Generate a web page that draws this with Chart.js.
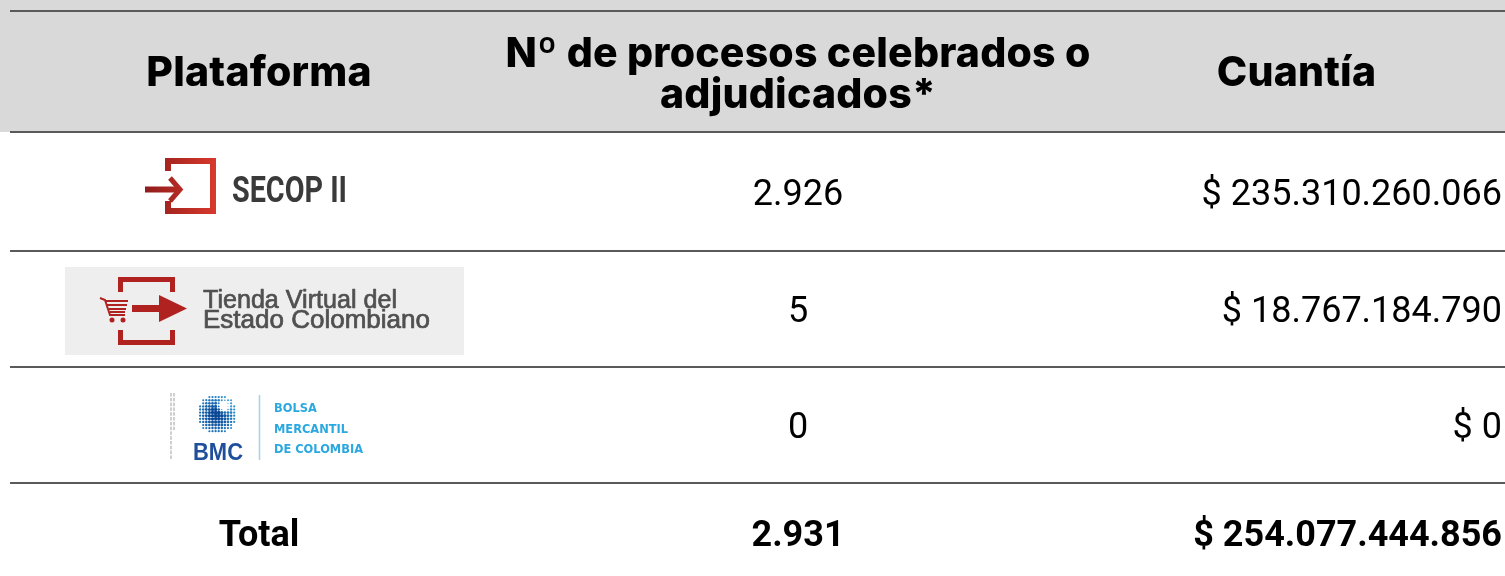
<!DOCTYPE html>
<html><head><meta charset="utf-8">
<script src="https://cdn.jsdelivr.net/npm/chart.js@4.4.1/dist/chart.umd.min.js"></script>
<style>html,body{margin:0;padding:0;background:#fff;overflow:hidden}#wrap{width:1505px;height:576px;position:relative}</style>
</head><body><div id="wrap"><canvas id="c"></canvas></div>
<script>
// ---- data ----
const headers = ['Plataforma', ['Nº de procesos celebrados o', 'adjudicados*'], 'Cuantía'];
const platforms = [['SECOP II'], ['Tienda Virtual del', 'Estado Colombiano'], ['BOLSA', 'MERCANTIL', 'DE COLOMBIA']];
const processCounts = [2926, 5, 0];
const amounts = [235310260066, 18767184790, 0];
const totalLabel = 'Total';
const totalCount = 2931;
const totalAmount = 254077444856;

// ---- layout (not data) ----
const colWidths = [498, 580, 417];
const rowHeights = [121, 119, 116, 116, 100];
const visibleHeight = 565;
const rightPad = 3;

const sum = a => a.reduce((s, v) => s + v, 0);
const colStart = i => sum(colWidths.slice(0, i));
const colCenter = i => colStart(i) + colWidths[i] / 2;
const colRight = i => colStart(i) + colWidths[i] - rightPad;
const rowCenter = i => sum(rowHeights.slice(0, i)) + rowHeights[i] / 2;
const fmt = n => String(n).replace(/\B(?=(\d{3})+(?!\d))/g, '.');
const money = n => '$ ' + fmt(n);

const bodyRows = platforms.length;
const datasets = [
  { label: 'header', data: headers.map((h, i) => ({ x: colCenter(i), y: rowCenter(0) })) },
  { label: 'platform', data: platforms.map((p, i) => ({ x: colCenter(0), y: rowCenter(i + 1) })).concat([{ x: colCenter(0), y: rowCenter(bodyRows + 1) }]) },
  { label: 'count', data: processCounts.map((v, i) => ({ x: colCenter(1), y: rowCenter(i + 1) })).concat([{ x: colCenter(1), y: rowCenter(bodyRows + 1) }]) },
  { label: 'amount', data: amounts.map((v, i) => ({ x: colRight(2), y: rowCenter(i + 1) })).concat([{ x: colRight(2), y: rowCenter(bodyRows + 1) }]) }
];
datasets.forEach(d => { d.pointRadius = 0; d.pointHoverRadius = 0; d.showLine = false; });

function fitText(ctx, text, x, y, width) {
  const w = ctx.measureText(text).width;
  ctx.save(); ctx.translate(x, y); ctx.scale(width / w, 1); ctx.fillText(text, 0, 0); ctx.restore();
}

function drawSecop(ctx, cx, cy, lines) {
  const g = ctx.createLinearGradient(cx - 116, 0, cx - 43, 0);
  g.addColorStop(0, '#8e1b1b'); g.addColorStop(1, '#d8392c');
  ctx.fillStyle = g;
  ctx.fillRect(cx - 49, cy - 33.5, 6, 56);
  ctx.fillRect(cx - 94, cy - 33.5, 51, 6);
  ctx.fillRect(cx - 94, cy - 33.5, 6, 13);
  ctx.fillRect(cx - 94, cy + 16.5, 51, 6);
  ctx.fillRect(cx - 94, cy + 9.5, 6, 13);
  ctx.strokeStyle = g; ctx.lineWidth = 6; ctx.lineCap = 'butt';
  ctx.beginPath(); ctx.moveTo(cx - 114, cy - 2); ctx.lineTo(cx - 81, cy - 2); ctx.stroke();
  ctx.lineWidth = 5; ctx.lineJoin = 'miter';
  ctx.beginPath(); ctx.moveTo(cx - 89, cy - 13.5); ctx.lineTo(cx - 79, cy - 2); ctx.lineTo(cx - 89, cy + 9.5); ctx.stroke();
  ctx.fillStyle = '#3a3a3a';
  ctx.font = 'bold 36px Roboto';
  ctx.textAlign = 'left';
  fitText(ctx, lines[0], cx - 27, cy + 10.5, 115);
}

function drawTienda(ctx, cx, cy, lines) {
  ctx.fillStyle = '#eeeeee';
  ctx.fillRect(cx - 194, cy - 42, 399, 88);
  ctx.fillStyle = '#b02220';
  ctx.fillRect(cx - 141, cy - 32, 57, 5);
  ctx.fillRect(cx - 141, cy - 32, 5, 15);
  ctx.fillRect(cx - 89, cy - 32, 5, 15);
  ctx.fillRect(cx - 141, cy + 31, 57, 5);
  ctx.fillRect(cx - 141, cy + 21, 5, 15);
  ctx.fillRect(cx - 89, cy + 21, 5, 15);
  ctx.fillRect(cx - 127, cy - 4, 30, 7);
  ctx.beginPath(); ctx.moveTo(cx - 100, cy - 14); ctx.lineTo(cx - 72, cy - 0.5); ctx.lineTo(cx - 100, cy + 13); ctx.closePath(); ctx.fill();
  // cart
  ctx.strokeStyle = '#b02220'; ctx.lineWidth = 2;
  ctx.beginPath(); ctx.moveTo(cx - 159, cy - 11); ctx.lineTo(cx - 154, cy - 9); ctx.lineTo(cx - 149, cy + 6); ctx.lineTo(cx - 134, cy + 6); ctx.stroke();
  const bl = [[-8, -153, -131], [-4, -152, -132], [0, -150, -133], [3, -149, -134]];
  bl.forEach(([dy, a, b]) => { ctx.beginPath(); ctx.moveTo(cx + a, cy + dy); ctx.lineTo(cx + b, cy + dy); ctx.stroke(); });
  ctx.beginPath(); ctx.arc(cx - 147, cy + 11, 2.5, 0, Math.PI * 2); ctx.fill();
  ctx.beginPath(); ctx.arc(cx - 136, cy + 11, 2.5, 0, Math.PI * 2); ctx.fill();
  ctx.fillStyle = '#505050';
  ctx.strokeStyle = '#505050'; ctx.lineWidth = 0.7; ctx.lineJoin = 'round';
  ctx.font = '25.5px "Liberation Sans", Arial';
  ctx.textAlign = 'left';
  const W = [194, 227];
  lines.forEach((ln, i) => {
    const w = ctx.measureText(ln).width;
    ctx.save(); ctx.translate(cx - 56, cy - 1 + i * 20); ctx.scale(W[i] / w, 1);
    ctx.fillText(ln, 0, 0); ctx.strokeText(ln, 0, 0); ctx.restore();
  });
}

function drawBmc(ctx, cx, cy, lines) {
  // tiny vertical caption strip
  ctx.fillStyle = '#cfcfcf';
  for (let i = 0; i < 14; i++) ctx.fillRect(cx - 89, cy - 32 + i * 4.8, 2, 3.5);
  for (let i = 0; i < 8; i++) ctx.fillRect(cx - 86, cy - 32 + i * 4.8, 2, 3.5);
  // dotted sphere
  const sx = cx - 42, sy = cy - 11, R = 20, step = 3.1;
  const light = [70, 185, 238], dark = [10, 72, 150];
  for (let gx = -R; gx <= R; gx += step) {
    for (let gy = -R; gy <= R; gy += step) {
      const d = Math.hypot(gx, gy);
      if (d > R) continue;
      const hd = Math.hypot(gx - 7, gy + 8);
      if (hd < 3.5) continue;
      const edge = d / R;
      let r = 2.0 * (1 - edge * 0.5) * Math.min(1, (hd - 2.5) / 5);
      if (r < 0.4) continue;
      let t = 0.45 + (1 - edge) * 0.75 + (gy - gx) / R * 0.12 - Math.max(0, 1 - hd / 10) * 0.5;
      t = Math.max(0, Math.min(1, t));
      const col = light.map((v, k) => Math.round(v + (dark[k] - v) * t));
      ctx.fillStyle = `rgb(${col.join(',')})`;
      ctx.beginPath(); ctx.arc(sx + gx, sy + gy, r, 0, Math.PI * 2); ctx.fill();
    }
  }
  ctx.fillStyle = '#1f4e9b';
  ctx.font = 'bold 23px "Liberation Sans", Arial';
  ctx.textAlign = 'left';
  fitText(ctx, 'BMC', cx - 66, cy + 35, 50);
  ctx.strokeStyle = '#9fd3f0'; ctx.lineWidth = 1.5;
  ctx.beginPath(); ctx.moveTo(cx + 0.5, cy - 30); ctx.lineTo(cx + 0.5, cy + 35); ctx.stroke();
  ctx.fillStyle = '#2aa8e0';
  ctx.font = 'bold 12px "DejaVu Sans"';
  const s = 89 / ctx.measureText(lines[2]).width;
  const bases = [-13, 8, 28];
  lines.forEach((ln, i) => {
    ctx.save(); ctx.translate(cx + 15, cy + bases[i]); ctx.scale(s, 1); ctx.fillText(ln, 0, 0); ctx.restore();
  });
}

const logoDrawers = [drawSecop, drawTienda, drawBmc];

const tablePlugin = {
  id: 'tablePlugin',
  beforeDatasetsDraw(chart) {
    const { ctx, scales: { x, y }, chartArea } = chart;
    ctx.save();
    ctx.fillStyle = '#d9d9d9';
    ctx.fillRect(0, 0, chart.width, y.getPixelForValue(rowHeights[0]));
    ctx.strokeStyle = '#5a5a5a'; ctx.lineWidth = 2;
    let acc = 0;
    for (let i = 0; i < rowHeights.length; i++) {
      const py = Math.round(y.getPixelForValue(acc));
      ctx.beginPath(); ctx.moveTo(chartArea.left, py); ctx.lineTo(chartArea.right, py); ctx.stroke();
      acc += rowHeights[i];
    }
    ctx.restore();
  },
  afterDatasetsDraw(chart) {
    const { ctx } = chart;
    const pts = k => chart.getDatasetMeta(k).data;
    ctx.save();
    // header
    ctx.fillStyle = '#000';
    ctx.font = '800 41px Inter';
    ctx.letterSpacing = '0.2px';
    ctx.textAlign = 'center'; ctx.textBaseline = 'alphabetic';
    pts(0).forEach((p, i) => {
      const h = headers[i];
      if (Array.isArray(h)) {
        ctx.fillText(h[0], p.x, p.y - 4.5);
        ctx.fillText(h[1], p.x, p.y + 36.5);
      } else {
        ctx.fillText(h, p.x, p.y + 14.5);
      }
    });
    ctx.letterSpacing = '0px';
    // logos
    pts(1).forEach((p, i) => {
      if (i < bodyRows) { ctx.save(); logoDrawers[i](ctx, p.x, p.y, platforms[i]); ctx.restore(); }
    });
    // body values
    ctx.fillStyle = '#000';
    ctx.font = '36px Roboto';
    ctx.textAlign = 'center';
    pts(2).forEach((p, i) => { if (i < bodyRows) ctx.fillText(fmt(processCounts[i]), p.x, p.y + 13); });
    ctx.textAlign = 'right';
    pts(3).forEach((p, i) => { if (i < bodyRows) ctx.fillText(money(amounts[i]), p.x, p.y + 13); });
    // totals
    ctx.font = 'bold 36px Roboto';
    ctx.textAlign = 'center';
    const t1 = pts(1)[bodyRows]; ctx.fillText(totalLabel, t1.x, t1.y + 13);
    const t2 = pts(2)[bodyRows]; ctx.fillText(fmt(totalCount), t2.x, t2.y + 13);
    ctx.textAlign = 'right';
    const t3 = pts(3)[bodyRows]; ctx.fillText(money(totalAmount), t3.x, t3.y + 13);
    ctx.restore();
  }
};

new Chart(document.getElementById('c'), {
  type: 'scatter',
  data: { datasets },
  options: {
    responsive: true, maintainAspectRatio: false, animation: false,
    layout: { padding: { top: 11, left: 10, right: 0, bottom: 0 } },
    plugins: { legend: { display: false }, tooltip: { enabled: false } },
    events: [],
    scales: {
      x: { type: 'linear', display: false, min: 0, max: sum(colWidths) },
      y: { type: 'linear', display: false, reverse: true, min: 0, max: visibleHeight }
    }
  },
  plugins: [tablePlugin]
});
</script>
</body></html>
